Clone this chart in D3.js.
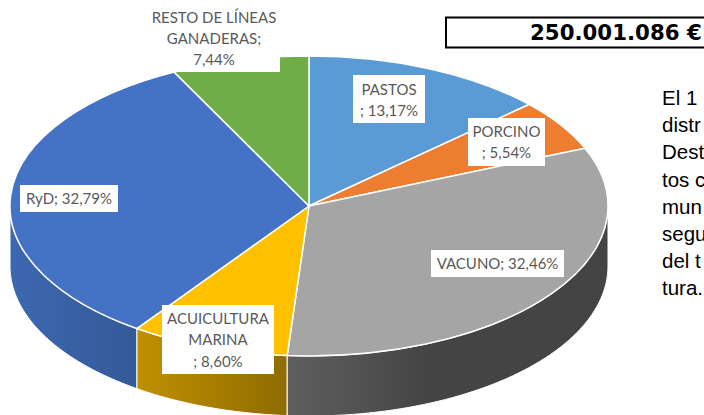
<!DOCTYPE html>
<html><head><meta charset="utf-8">
<script src="https://cdn.jsdelivr.net/npm/d3@7"></script>
<style>html,body{margin:0;padding:0;background:#fff;overflow:hidden}svg{display:block}</style>
</head><body><div id="c"></div>
<script>
const categories = ["PASTOS","PORCINO","VACUNO","ACUICULTURA MARINA","RyD","RESTO DE LÍNEAS GANADERAS"];
const values = [13.17,5.54,32.46,8.60,32.79,7.44];
const topColors = ["#5b9bd5","#ed7d31","#a5a5a5","#ffc000","#4472c4","#70ad47"];
const sideFrom = [null,null,"#5f5f5f","#c09000","#3d67b0",null];
const sideTo = [null,null,"#444444","#8f6c00","#335a98",null];
const labelLines = [["PASTOS","; 13,17%"],["PORCINO","; 5,54%"],["VACUNO; 32,46%"],["ACUICULTURA","MARINA","; 8,60%"],["RyD; 32,79%"],["RESTO DE LÍNEAS","GANADERAS;","7,44%"]];
const labelBoxes = [[353,75,72,48],[468,118,77,48],[431,250,133,27],[162,305,112,69],[20,185,98,27],[150,0,130,72]];
const bodyLines = ["El 1","distr","Dest","tos c","mun","segu","del t","tura."];
const totalLabel = "250.001.086 €";

const W=704,H=415,cx=309,cy=206,rx=299,ry=150,depth=60;
const svg=d3.select("#c").append("svg").attr("width",W).attr("height",H);
const defs=svg.append("defs");
const pie=d3.pie().sort(null).value(d=>d)(values);
const xs=d3.scaleLinear().domain([-1,1]).range([cx-rx,cx+rx]);
const ys=d3.scaleLinear().domain([-1,1]).range([cy-ry,cy+ry]);
const px=a=>xs(Math.sin(a)), py=a=>ys(-Math.cos(a));
const line=d3.line();

// side walls
pie.forEach((p,i)=>{
  const a0=Math.max(p.startAngle,Math.PI/2), a1=Math.min(p.endAngle,3*Math.PI/2);
  if(a1<=a0) return;
  const n=60, ang=d3.range(n+1).map(k=>a0+(a1-a0)*k/n);
  const pts=ang.map(a=>[px(a),py(a)]).concat(ang.slice().reverse().map(a=>[px(a),py(a)+depth]));
  const id="g"+i, xa=d3.extent(ang,px);
  const g=defs.append("linearGradient").attr("id",id).attr("gradientUnits","userSpaceOnUse")
    .attr("x1",xa[0]).attr("x2",xa[1]).attr("y1",0).attr("y2",0);
  g.append("stop").attr("offset",0).attr("stop-color",sideFrom[i]);
  g.append("stop").attr("offset",i===2?0.45:1).attr("stop-color",sideTo[i]);
  svg.append("path").attr("d",line(pts)+"Z").attr("fill","url(#"+id+")").attr("stroke","#fff").attr("stroke-width",1);
});
// top slices
const arc=d3.arc().innerRadius(0).outerRadius(1);
const topFace=svg.append("g").attr("transform",`translate(${cx},${cy}) scale(${rx},${ry})`);
topFace.selectAll("path").data(pie).join("path").attr("d",arc)
  .attr("fill",(d,i)=>topColors[i]).attr("stroke","#fff").attr("stroke-width",1.5)
  .attr("vector-effect","non-scaling-stroke");
// labels
const lh=[21,21,21,21.3,21,21];
const firstY=[95,137,269,324,204,23];
labelBoxes.forEach((b,i)=>{
  svg.append("rect").attr("x",b[0]).attr("y",b[1]).attr("width",b[2]).attr("height",b[3]).attr("fill","#fff");
  const t=svg.append("text").attr("text-anchor","middle").attr("font-family","Lato, Carlito, sans-serif")
    .attr("font-size",15).attr("fill","#595959");
  labelLines[i].forEach((s,k)=>t.append("tspan").attr("x",b[0]+b[2]/2+(i===5?-1:0)).attr("y",firstY[i]+k*lh[i]).text(s));
});
// total box
svg.append("rect").attr("x",446).attr("y",17.5).attr("width",300).attr("height",30).attr("fill","#fff").attr("stroke","#000").attr("stroke-width",2);
svg.append("text").attr("x",530).attr("y",40).attr("font-family","DejaVu Sans, sans-serif").attr("font-weight",700).attr("font-size",21.3).attr("fill","#000").text(totalLabel);
// body text
const body=svg.append("text").attr("font-family","Liberation Sans, sans-serif").attr("font-size",20.5).attr("fill","#000");
bodyLines.forEach((s,k)=>body.append("tspan").attr("x",662).attr("y",105+k*27.2).text(s));
</script></body></html>
